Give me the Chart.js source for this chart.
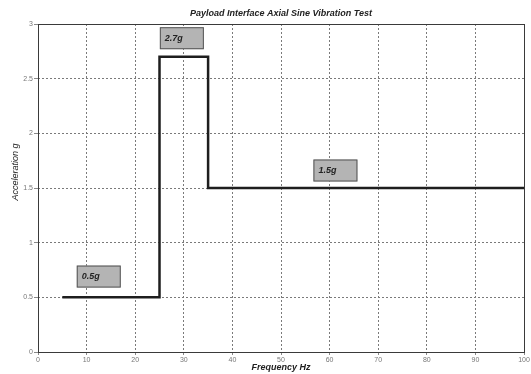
<!DOCTYPE html>
<html lang="en">

<head>
    <meta charset="UTF-8">
    <title>Payload Interface Axial Sine Vibration Test</title>
    <script src="https://cdn.jsdelivr.net/npm/chart.js"></script>
    <style>
        html, body { margin: 0; padding: 0; background: #fff; }
        #wrap { width: 531px; height: 374px; }
    </style>
</head>

<body>
    <div id="wrap">
        <canvas id="vibChart"></canvas>
    </div>

    <script>
        // profile of the test (frequency in Hz, acceleration in g)
        var freqHz = [5, 25, 25, 35, 35, 100];
        var accelG = [0.5, 0.5, 2.7, 2.7, 1.5, 1.5];

        // level callouts: text and where the box is anchored (data units)
        var calloutText = ['0.5g', '2.7g', '1.5g'];
        var calloutFreq = [12.5, 29.6, 61.2];
        var calloutAccel = [0.69, 2.87, 1.66];

        var xTicks = [0, 10, 20, 30, 40, 50, 60, 70, 80, 90, 100];
        var yTicks = [0, 0.5, 1, 1.5, 2, 2.5, 3];

        var chartTitle = 'Payload Interface Axial Sine Vibration Test';
        var xTitle = 'Frequency Hz';
        var yTitle = 'Acceleration g';

        var points = freqHz.map(function (f, i) { return { x: f, y: accelG[i] }; });

        var extras = {
            id: 'extras',
            beforeDraw: function (chart) {
                var ctx = chart.ctx;
                ctx.save();
                ctx.fillStyle = '#ffffff';
                ctx.fillRect(0, 0, chart.width, chart.height);
                ctx.restore();
            },
            afterDraw: function (chart) {
                var ctx = chart.ctx;
                var a = chart.chartArea;
                var xs = chart.scales.x, ys = chart.scales.y;
                ctx.save();

                // frame
                ctx.strokeStyle = '#3a3a3a';
                ctx.lineWidth = 1;
                ctx.setLineDash([]);
                var l = Math.round(a.left) + 0.5, t = Math.round(a.top) + 0.5;
                var r = Math.round(a.right) + 0.5, b = Math.round(a.bottom) + 0.5;
                ctx.strokeRect(l, t, r - l, b - t);

                // callout boxes
                ctx.font = 'italic bold 9px "Liberation Sans", Arial, sans-serif';
                for (var i = 0; i < calloutText.length; i++) {
                    var cx = xs.getPixelForValue(calloutFreq[i]);
                    var cy = ys.getPixelForValue(calloutAccel[i]);
                    var w = 44, h = 22;
                    ctx.fillStyle = '#b4b4b4';
                    ctx.fillRect(cx - w / 2, cy - h / 2, w, h);
                    ctx.strokeStyle = '#555';
                    ctx.strokeRect(cx - w / 2 + 0.5, cy - h / 2 + 0.5, w - 1, h - 1);
                    ctx.fillStyle = '#222';
                    ctx.textAlign = 'left';
                    ctx.textBaseline = 'middle';
                    ctx.fillText(calloutText[i], cx - w / 2 + 5, cy);
                }

                // titles
                ctx.fillStyle = '#222';
                ctx.textAlign = 'center';
                ctx.textBaseline = 'middle';
                ctx.font = 'italic bold 9px "Liberation Sans", Arial, sans-serif';
                ctx.fillText(chartTitle, (a.left + a.right) / 2, 14);
                ctx.fillText(xTitle, (a.left + a.right) / 2, 368);
                ctx.translate(15, 172);
                ctx.rotate(-Math.PI / 2);
                ctx.font = 'italic 9px "Liberation Sans", Arial, sans-serif';
                ctx.fillText(yTitle, 0, 0);
                ctx.restore();
            }
        };

        var tickFont = { family: '"Liberation Sans", Arial, sans-serif', size: 7 };
        var plainLabel = function (v) { return String(v); };

        var vibChart = new Chart(document.getElementById('vibChart').getContext('2d'), {
            type: 'scatter',
            data: {
                datasets: [{
                    data: points,
                    showLine: true,
                    borderColor: '#1e1e1e',
                    borderWidth: 2.5,
                    pointRadius: 0,
                    fill: false,
                }]
            },
            options: {
                responsive: true,
                maintainAspectRatio: false,
                animation: false,
                layout: { padding: { top: 24, right: 7, left: 0, bottom: 0 } },
                plugins: {
                    legend: { display: false },
                    tooltip: { enabled: false }
                },
                scales: {
                    x: {
                        type: 'linear',
                        min: 0,
                        max: 100,
                        afterBuildTicks: function (s) { s.ticks = xTicks.map(function (v) { return { value: v }; }); },
                        afterFit: function (s) { s.height = 22; },
                        grid: { color: '#7a7a7a', lineWidth: 1, tickLength: 3, tickColor: '#888' },
                        border: { display: false, dash: [2, 2] },
                        ticks: { color: '#777', padding: 1, maxRotation: 0, font: tickFont, callback: plainLabel }
                    },
                    y: {
                        type: 'linear',
                        min: 0,
                        max: 3,
                        afterBuildTicks: function (s) { s.ticks = yTicks.map(function (v) { return { value: v }; }); },
                        afterFit: function (s) { s.width = 38; },
                        grid: { color: '#7a7a7a', lineWidth: 1, tickLength: 4, tickColor: '#888' },
                        border: { display: false, dash: [2, 2] },
                        ticks: { color: '#777', padding: 1, font: tickFont, callback: plainLabel }
                    }
                }
            },
            plugins: [extras]
        });
    </script>
</body>

</html>
